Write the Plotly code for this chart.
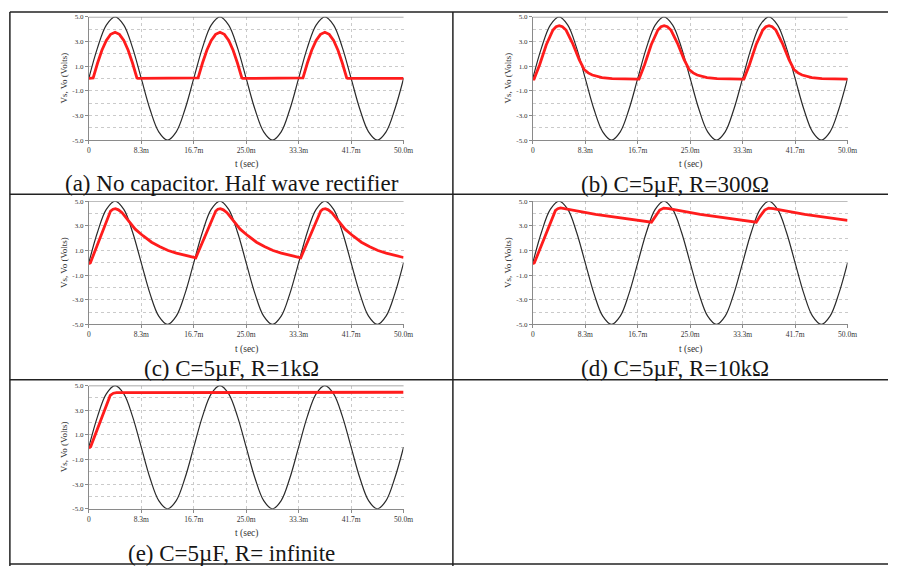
import plotly.graph_objects as go

W, H = 898, 570

# ---------------- data (time in ms, voltage in V) ----------------
t_vs = [0, 1.39, 2.78, 4.17, 5.56, 6.94, 8.33, 9.72, 11.11, 12.5, 13.89, 15.28,
        16.67, 18.06, 19.44, 20.83, 22.22, 23.61, 25.0, 26.39, 27.78, 29.17, 30.56, 31.94,
        33.33, 34.72, 36.11, 37.5, 38.89, 40.28, 41.67, 43.06, 44.44, 45.83, 47.22, 48.61, 50.0]
v_vs = [0, 2.5, 4.33, 5.0, 4.33, 2.5, 0, -2.5, -4.33, -5.0, -4.33, -2.5,
        0, 2.5, 4.33, 5.0, 4.33, 2.5, 0, -2.5, -4.33, -5.0, -4.33, -2.5,
        0, 2.5, 4.33, 5.0, 4.33, 2.5, 0, -2.5, -4.33, -5.0, -4.33, -2.5, 0]

# (a) no capacitor
t_a = [0, 0.69, 1.39, 2.08, 2.78, 3.47, 4.17, 4.86, 5.56, 6.25, 6.94, 7.64, 7.80,
       17.36, 18.06, 18.75, 19.45, 20.14, 20.84, 21.53, 22.23, 22.92, 23.61, 24.31, 24.47,
       34.02, 34.72, 35.41, 36.11, 36.80, 37.50, 38.19, 38.89, 39.58, 40.27, 40.97, 41.13, 50.0]
v_a = [0, 0.04, 1.25, 2.29, 3.08, 3.58, 3.75, 3.58, 3.08, 2.29, 1.25, 0.04, 0,
       0.04, 1.25, 2.29, 3.08, 3.58, 3.75, 3.58, 3.08, 2.29, 1.25, 0.04, 0,
       0.04, 1.25, 2.29, 3.08, 3.58, 3.75, 3.58, 3.08, 2.29, 1.25, 0.04, 0, 0]

# (b) C=5uF, R=300
t_b = [0, 0.2, 1.1, 2.14, 3.2, 3.7, 4.2, 4.7, 5.28, 6.3, 7.37, 8.15, 8.8, 9.45, 11.0, 12.6,
       16.67, 16.87, 17.77, 18.81, 19.87, 20.37, 20.87, 21.37, 21.95, 22.97, 24.04, 24.82, 25.47, 26.12, 27.67, 29.27,
       33.33, 33.53, 34.43, 35.47, 36.53, 37.03, 37.53, 38.03, 38.61, 39.63, 40.70, 41.48, 42.13, 42.78, 44.33, 45.93,
       50.0]
v_b = [-0.05, -0.05, 1.13, 2.73, 3.93, 4.2, 4.28, 4.2, 3.93, 2.87, 1.53, 0.73, 0.45, 0.28, 0.07, -0.02,
       -0.05, -0.05, 1.13, 2.73, 3.93, 4.2, 4.28, 4.2, 3.93, 2.87, 1.53, 0.73, 0.45, 0.28, 0.07, -0.02,
       -0.05, -0.05, 1.13, 2.73, 3.93, 4.2, 4.28, 4.2, 3.93, 2.87, 1.53, 0.73, 0.45, 0.28, 0.07, -0.02,
       -0.05]

# (c) C=5uF, R=1k
t_c = [0, 0.25, 3.45, 3.85, 4.23, 4.7, 5.28, 6.3, 7.37, 8.6, 9.97, 11.3, 12.6, 13.9, 15.2, 16.5,
       17.0, 20.17, 20.5, 20.9, 21.37, 21.95, 22.97, 24.04, 25.27, 26.64, 27.97, 29.27, 30.57, 31.87, 33.17,
       33.67, 36.84, 37.17, 37.57, 38.03, 38.61, 39.63, 40.70, 41.93, 43.30, 44.63, 45.93, 47.23, 48.53, 50.0]
v_c = [-0.07, 0.0, 4.2, 4.35, 4.39, 4.3, 4.07, 3.4, 2.73, 2.2, 1.67, 1.3, 1.0, 0.78, 0.6, 0.46,
       0.41, 4.2, 4.35, 4.39, 4.3, 4.07, 3.4, 2.73, 2.2, 1.67, 1.3, 1.0, 0.78, 0.6, 0.46,
       0.41, 4.2, 4.35, 4.39, 4.3, 4.07, 3.4, 2.73, 2.2, 1.67, 1.3, 1.0, 0.78, 0.6, 0.43]

# (d) C=5uF, R=10k
t_d = [0, 0.25, 3.6, 3.97, 4.4, 5.0, 9.97, 18.85,
       19.4, 20.17, 20.8, 21.6, 26.6, 35.5,
       36.07, 36.84, 37.47, 38.2, 43.2, 50.0]
v_d = [-0.07, 0.0, 4.25, 4.39, 4.45, 4.4, 3.93, 3.3,
       3.75, 4.28, 4.44, 4.4, 3.93, 3.3,
       3.75, 4.28, 4.44, 4.4, 3.93, 3.45]

# (e) C=5uF, R=infinite
t_e = [0, 0.3, 3.4, 3.9, 4.4, 36.5, 37.5, 50.0]
v_e = [-0.07, 0.05, 4.2, 4.38, 4.42, 4.42, 4.46, 4.46]

captions = ["(a) No capacitor. Half wave rectifier",
            "(b) C=5\u00b5F, R=300\u03a9",
            "(c) C=5\u00b5F, R=1k\u03a9",
            "(d) C=5\u00b5F, R=10k\u03a9",
            "(e) C=5\u00b5F, R= infinite"]
red_series = [(t_a, v_a), (t_b, v_b), (t_c, v_c), (t_d, v_d), (t_e, v_e)]

x_tickvals = [0, 8.33, 16.67, 25.0, 33.33, 41.67, 50.0]
x_ticktext = ["0", "8.3m", "16.7m", "25.0m", "33.3m", "41.7m", "50.0m"]
y_tickvals = [-5, -3, -1, 1, 3, 5]
y_ticktext = ["-5.0", "-3.0", "-1.0", "1.0", "3.0", "5.0"]
x_title = "t (sec)"
y_title = "Vs, Vo (Volts)"

# ---------------- layout helpers (pixel positions) ----------------
def px(x):
    return x / W

def py(y):
    return 1 - y / H

# plot-area pixel boxes: (x0, x1, ytop, ybottom)
boxes = [(88, 407, 13, 138), (538, 857, 13, 138),
         (88, 407, 200, 325), (538, 857, 200, 325),
         (88, 407, 387, 512)]
caption_pos = [(233, 182), (682, 183), (233, 370), (682, 370), (233, 557)]

SERIF = "Liberation Serif"
GRID = "#cacaca"
AXIS = "#8a8a8a"

fig = go.Figure()
annotations = []
shapes = []

for i, (box, (tr, vr)) in enumerate(zip(boxes, red_series)):
    n = "" if i == 0 else str(i + 1)
    xa, ya = "x" + n, "y" + n
    fig.add_trace(go.Scatter(x=t_vs, y=v_vs, mode="lines", xaxis=xa, yaxis=ya,
                             line=dict(color="#2a2a2a", width=1.2, shape="spline", smoothing=1.0),
                             showlegend=False, hoverinfo="skip"))
    fig.add_trace(go.Scatter(x=tr, y=vr, mode="lines", xaxis=xa, yaxis=ya,
                             line=dict(color="#ff1c1c", width=2.8),
                             showlegend=False, hoverinfo="skip"))
    x0, x1, yt, yb = box
    fig.update_layout(**{
        "xaxis" + n: dict(domain=[px(x0), px(x1)], anchor=ya, range=[0, 50],
                          tickmode="array", tickvals=x_tickvals, ticktext=x_ticktext,
                          showgrid=True, gridcolor=GRID, griddash="dot", gridwidth=1,
                          showline=True, linecolor=AXIS, linewidth=1,
                          ticks="outside", ticklen=3, tickcolor=AXIS,
                          tickfont=dict(family=SERIF, size=7.5, color="#333"),
                          zeroline=False, fixedrange=True),
        "yaxis" + n: dict(domain=[py(yb), py(yt)], anchor=xa, range=[-5, 5],
                          tickmode="array", tickvals=y_tickvals, ticktext=y_ticktext,
                          showgrid=True, gridcolor=GRID, griddash="dot", gridwidth=1,
                          minor=dict(dtick=1, tick0=0, showgrid=True, gridcolor=GRID,
                                     griddash="dot", gridwidth=1, ticks=""),
                          showline=True, linecolor=AXIS, linewidth=1,
                          ticks="outside", ticklen=3, tickcolor=AXIS,
                          tickfont=dict(family=SERIF, size=7, color="#333"),
                          zeroline=False, fixedrange=True),
    })
    # solid top frame line at 5.0
    shapes.append(dict(type="line", xref=xa + " domain", yref=ya, x0=0, x1=1, y0=5, y1=5,
                       line=dict(color=AXIS, width=1.2)))
    # axis titles
    annotations.append(dict(text=y_title, x=px(x0 - 25), y=py((yt + yb) / 2), xref="paper", yref="paper",
                            textangle=-90, showarrow=False, xanchor="center", yanchor="middle",
                            font=dict(family=SERIF, size=9, color="#333")))
    annotations.append(dict(text=x_title, x=px((x0 + x1) / 2), y=py(yb + 25), xref="paper", yref="paper",
                            showarrow=False, xanchor="center", yanchor="middle",
                            font=dict(family=SERIF, size=9.5, color="#333")))
    cx, cy = caption_pos[i]
    annotations.append(dict(text=captions[i], x=px(cx), y=py(cy), xref="paper", yref="paper",
                            showarrow=False, xanchor="center", yanchor="middle",
                            font=dict(family=SERIF, size=23, color="#161616")))

# table borders
for yy in [8, 193, 381, 568]:
    shapes.append(dict(type="line", xref="paper", yref="paper", x0=px(8), x1=1, y0=py(yy), y1=py(yy),
                       line=dict(color="#222", width=1.5)))
for xx in [8, 457]:
    shapes.append(dict(type="line", xref="paper", yref="paper", x0=px(xx), x1=px(xx), y0=py(8), y1=0,
                       line=dict(color="#222", width=1.5)))

fig.update_layout(width=W, height=H, margin=dict(l=0, r=0, t=0, b=0),
                  paper_bgcolor="white", plot_bgcolor="white",
                  annotations=annotations, shapes=shapes, showlegend=False)

fig.write_html("out.html")
